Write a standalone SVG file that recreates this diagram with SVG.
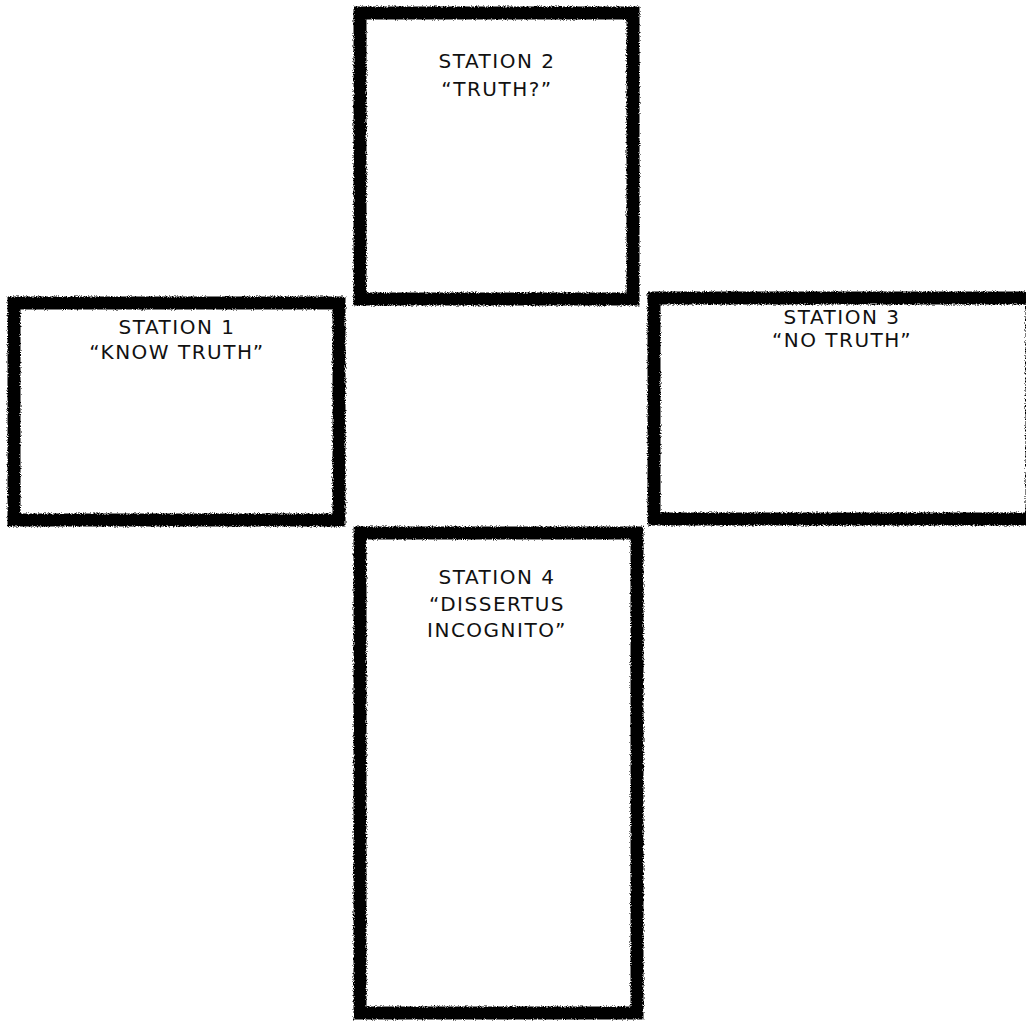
<svg xmlns="http://www.w3.org/2000/svg" width="1026" height="1021" viewBox="0 0 1026 1021">
<style>
.box{fill:none;stroke:#000;stroke-width:13;filter:url(#rough)}
.lbl{font-family:"DejaVu Sans",sans-serif;font-size:20px;letter-spacing:1.5px;fill:#111;text-anchor:middle}
</style>
<defs>
<filter id="rough" x="-5%" y="-5%" width="110%" height="110%">
<feTurbulence type="fractalNoise" baseFrequency="0.9" numOctaves="2" seed="3" result="n"/>
<feDisplacementMap in="SourceGraphic" in2="n" scale="4" xChannelSelector="R" yChannelSelector="G"/>
</filter>
</defs>
<rect width="1026" height="1021" fill="#fff"/>
<g id="connectors"></g>
<g id="station2">
<rect class="box" x="360" y="13" width="273" height="286"/>
<text class="lbl" x="497" y="68">STATION 2</text>
<text class="lbl" x="497" y="96">“TRUTH?”</text>
</g>
<g id="station1">
<rect class="box" x="14" y="303" width="325" height="217"/>
<text class="lbl" x="177" y="334">STATION 1</text>
<text class="lbl" x="177" y="359">“KNOW TRUTH”</text>
</g>
<g id="station3">
<rect class="box" x="654" y="298" width="378" height="221"/>
<text class="lbl" x="842" y="324">STATION 3</text>
<text class="lbl" x="842" y="347">“NO TRUTH”</text>
</g>
<g id="station4">
<rect class="box" x="360" y="533" width="277" height="480"/>
<text class="lbl" x="497" y="584">STATION 4</text>
<text class="lbl" x="497" y="611">“DISSERTUS</text>
<text class="lbl" x="497" y="637">INCOGNITO”</text>
</g>
</svg>
